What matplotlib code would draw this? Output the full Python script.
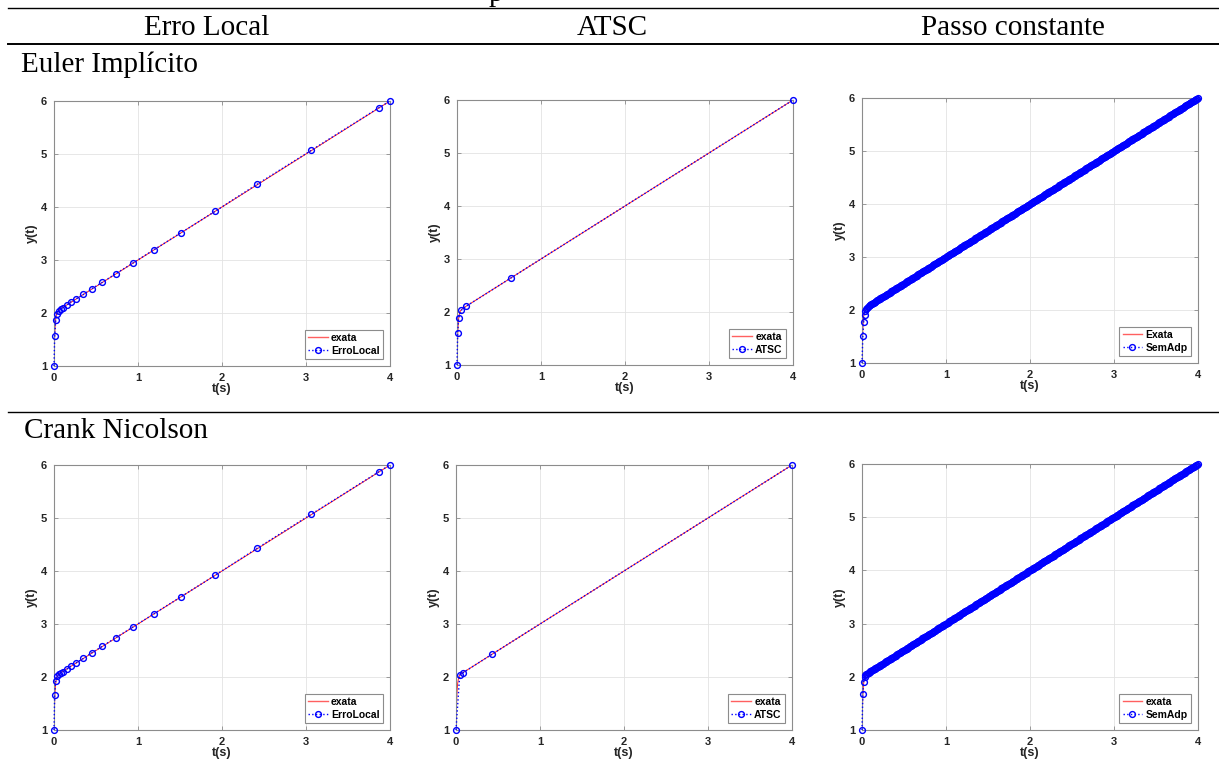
import matplotlib
matplotlib.use("Agg")
from matplotlib import pyplot as plt
from matplotlib.lines import Line2D

W, H = 1219, 770

# solucao exata
t_exata = [0, 0.002, 0.005, 0.01, 0.015, 0.02, 0.03, 0.04, 0.05, 0.07, 0.1, 0.15, 0.2, 0.5, 1, 2, 3, 4]
y_exata = [1.0, 1.18, 1.40, 1.64, 1.79, 1.88, 1.98, 2.02, 2.04, 2.07, 2.10, 2.15, 2.20, 2.50, 3.00, 4.00, 5.00, 6.00]

# Erro Local
t_erro_ei = [0, 0.008, 0.02, 0.036, 0.06, 0.083, 0.107, 0.155, 0.2, 0.266, 0.35, 0.448, 0.575, 0.734,
             0.937, 1.187, 1.508, 1.915, 2.415, 3.063, 3.869, 4.0]
y_erro_ei = [1.0, 1.56, 1.86, 1.98, 2.04, 2.07, 2.10, 2.15, 2.21, 2.27, 2.35, 2.455, 2.58, 2.74,
             2.94, 3.19, 3.51, 3.916, 4.426, 5.07, 5.874, 6.0]
t_erro_cn = [0, 0.008, 0.02, 0.036, 0.06, 0.083, 0.107, 0.155, 0.2, 0.266, 0.35, 0.448, 0.575, 0.734,
             0.937, 1.187, 1.508, 1.915, 2.415, 3.063, 3.869, 4.0]
y_erro_cn = [1.0, 1.66, 1.93, 2.02, 2.05, 2.08, 2.10, 2.15, 2.21, 2.27, 2.35, 2.455, 2.58, 2.74,
             2.94, 3.19, 3.51, 3.916, 4.426, 5.07, 5.874, 6.0]

# ATSC
t_atsc_ei = [0, 0.008, 0.02, 0.048, 0.111, 0.639, 4.0]
y_atsc_ei = [1.0, 1.60, 1.89, 2.03, 2.11, 2.64, 6.0]
t_atsc_cn = [0, 0.044, 0.079, 0.429, 4.0]
y_atsc_cn = [1.0, 2.04, 2.075, 2.43, 6.0]

# Passo constante (h = 0.01)
passo_t = [
    0.00, 0.01, 0.02, 0.03, 0.04, 0.05, 0.06, 0.07, 0.08, 0.09,
    0.10, 0.11, 0.12, 0.13, 0.14, 0.15, 0.16, 0.17, 0.18, 0.19,
    0.20, 0.21, 0.22, 0.23, 0.24, 0.25, 0.26, 0.27, 0.28, 0.29,
    0.30, 0.31, 0.32, 0.33, 0.34, 0.35, 0.36, 0.37, 0.38, 0.39,
    0.40, 0.41, 0.42, 0.43, 0.44, 0.45, 0.46, 0.47, 0.48, 0.49,
    0.50, 0.51, 0.52, 0.53, 0.54, 0.55, 0.56, 0.57, 0.58, 0.59,
    0.60, 0.61, 0.62, 0.63, 0.64, 0.65, 0.66, 0.67, 0.68, 0.69,
    0.70, 0.71, 0.72, 0.73, 0.74, 0.75, 0.76, 0.77, 0.78, 0.79,
    0.80, 0.81, 0.82, 0.83, 0.84, 0.85, 0.86, 0.87, 0.88, 0.89,
    0.90, 0.91, 0.92, 0.93, 0.94, 0.95, 0.96, 0.97, 0.98, 0.99,
    1.00, 1.01, 1.02, 1.03, 1.04, 1.05, 1.06, 1.07, 1.08, 1.09,
    1.10, 1.11, 1.12, 1.13, 1.14, 1.15, 1.16, 1.17, 1.18, 1.19,
    1.20, 1.21, 1.22, 1.23, 1.24, 1.25, 1.26, 1.27, 1.28, 1.29,
    1.30, 1.31, 1.32, 1.33, 1.34, 1.35, 1.36, 1.37, 1.38, 1.39,
    1.40, 1.41, 1.42, 1.43, 1.44, 1.45, 1.46, 1.47, 1.48, 1.49,
    1.50, 1.51, 1.52, 1.53, 1.54, 1.55, 1.56, 1.57, 1.58, 1.59,
    1.60, 1.61, 1.62, 1.63, 1.64, 1.65, 1.66, 1.67, 1.68, 1.69,
    1.70, 1.71, 1.72, 1.73, 1.74, 1.75, 1.76, 1.77, 1.78, 1.79,
    1.80, 1.81, 1.82, 1.83, 1.84, 1.85, 1.86, 1.87, 1.88, 1.89,
    1.90, 1.91, 1.92, 1.93, 1.94, 1.95, 1.96, 1.97, 1.98, 1.99,
    2.00, 2.01, 2.02, 2.03, 2.04, 2.05, 2.06, 2.07, 2.08, 2.09,
    2.10, 2.11, 2.12, 2.13, 2.14, 2.15, 2.16, 2.17, 2.18, 2.19,
    2.20, 2.21, 2.22, 2.23, 2.24, 2.25, 2.26, 2.27, 2.28, 2.29,
    2.30, 2.31, 2.32, 2.33, 2.34, 2.35, 2.36, 2.37, 2.38, 2.39,
    2.40, 2.41, 2.42, 2.43, 2.44, 2.45, 2.46, 2.47, 2.48, 2.49,
    2.50, 2.51, 2.52, 2.53, 2.54, 2.55, 2.56, 2.57, 2.58, 2.59,
    2.60, 2.61, 2.62, 2.63, 2.64, 2.65, 2.66, 2.67, 2.68, 2.69,
    2.70, 2.71, 2.72, 2.73, 2.74, 2.75, 2.76, 2.77, 2.78, 2.79,
    2.80, 2.81, 2.82, 2.83, 2.84, 2.85, 2.86, 2.87, 2.88, 2.89,
    2.90, 2.91, 2.92, 2.93, 2.94, 2.95, 2.96, 2.97, 2.98, 2.99,
    3.00, 3.01, 3.02, 3.03, 3.04, 3.05, 3.06, 3.07, 3.08, 3.09,
    3.10, 3.11, 3.12, 3.13, 3.14, 3.15, 3.16, 3.17, 3.18, 3.19,
    3.20, 3.21, 3.22, 3.23, 3.24, 3.25, 3.26, 3.27, 3.28, 3.29,
    3.30, 3.31, 3.32, 3.33, 3.34, 3.35, 3.36, 3.37, 3.38, 3.39,
    3.40, 3.41, 3.42, 3.43, 3.44, 3.45, 3.46, 3.47, 3.48, 3.49,
    3.50, 3.51, 3.52, 3.53, 3.54, 3.55, 3.56, 3.57, 3.58, 3.59,
    3.60, 3.61, 3.62, 3.63, 3.64, 3.65, 3.66, 3.67, 3.68, 3.69,
    3.70, 3.71, 3.72, 3.73, 3.74, 3.75, 3.76, 3.77, 3.78, 3.79,
    3.80, 3.81, 3.82, 3.83, 3.84, 3.85, 3.86, 3.87, 3.88, 3.89,
    3.90, 3.91, 3.92, 3.93, 3.94, 3.95, 3.96, 3.97, 3.98, 3.99,
    4.00]
passo_y_ei_inicio = [1.0, 1.51, 1.77, 1.905, 1.978, 2.019, 2.044, 2.062, 2.076, 2.088]
passo_y_cn_inicio = [1.0, 1.677, 1.909, 1.993, 2.028, 2.046, 2.059, 2.07, 2.08, 2.09]
passo_y_resto = [
    2.10, 2.11, 2.12, 2.13, 2.14, 2.15, 2.16, 2.17, 2.18, 2.19,
    2.20, 2.21, 2.22, 2.23, 2.24, 2.25, 2.26, 2.27, 2.28, 2.29,
    2.30, 2.31, 2.32, 2.33, 2.34, 2.35, 2.36, 2.37, 2.38, 2.39,
    2.40, 2.41, 2.42, 2.43, 2.44, 2.45, 2.46, 2.47, 2.48, 2.49,
    2.50, 2.51, 2.52, 2.53, 2.54, 2.55, 2.56, 2.57, 2.58, 2.59,
    2.60, 2.61, 2.62, 2.63, 2.64, 2.65, 2.66, 2.67, 2.68, 2.69,
    2.70, 2.71, 2.72, 2.73, 2.74, 2.75, 2.76, 2.77, 2.78, 2.79,
    2.80, 2.81, 2.82, 2.83, 2.84, 2.85, 2.86, 2.87, 2.88, 2.89,
    2.90, 2.91, 2.92, 2.93, 2.94, 2.95, 2.96, 2.97, 2.98, 2.99,
    3.00, 3.01, 3.02, 3.03, 3.04, 3.05, 3.06, 3.07, 3.08, 3.09,
    3.10, 3.11, 3.12, 3.13, 3.14, 3.15, 3.16, 3.17, 3.18, 3.19,
    3.20, 3.21, 3.22, 3.23, 3.24, 3.25, 3.26, 3.27, 3.28, 3.29,
    3.30, 3.31, 3.32, 3.33, 3.34, 3.35, 3.36, 3.37, 3.38, 3.39,
    3.40, 3.41, 3.42, 3.43, 3.44, 3.45, 3.46, 3.47, 3.48, 3.49,
    3.50, 3.51, 3.52, 3.53, 3.54, 3.55, 3.56, 3.57, 3.58, 3.59,
    3.60, 3.61, 3.62, 3.63, 3.64, 3.65, 3.66, 3.67, 3.68, 3.69,
    3.70, 3.71, 3.72, 3.73, 3.74, 3.75, 3.76, 3.77, 3.78, 3.79,
    3.80, 3.81, 3.82, 3.83, 3.84, 3.85, 3.86, 3.87, 3.88, 3.89,
    3.90, 3.91, 3.92, 3.93, 3.94, 3.95, 3.96, 3.97, 3.98, 3.99,
    4.00, 4.01, 4.02, 4.03, 4.04, 4.05, 4.06, 4.07, 4.08, 4.09,
    4.10, 4.11, 4.12, 4.13, 4.14, 4.15, 4.16, 4.17, 4.18, 4.19,
    4.20, 4.21, 4.22, 4.23, 4.24, 4.25, 4.26, 4.27, 4.28, 4.29,
    4.30, 4.31, 4.32, 4.33, 4.34, 4.35, 4.36, 4.37, 4.38, 4.39,
    4.40, 4.41, 4.42, 4.43, 4.44, 4.45, 4.46, 4.47, 4.48, 4.49,
    4.50, 4.51, 4.52, 4.53, 4.54, 4.55, 4.56, 4.57, 4.58, 4.59,
    4.60, 4.61, 4.62, 4.63, 4.64, 4.65, 4.66, 4.67, 4.68, 4.69,
    4.70, 4.71, 4.72, 4.73, 4.74, 4.75, 4.76, 4.77, 4.78, 4.79,
    4.80, 4.81, 4.82, 4.83, 4.84, 4.85, 4.86, 4.87, 4.88, 4.89,
    4.90, 4.91, 4.92, 4.93, 4.94, 4.95, 4.96, 4.97, 4.98, 4.99,
    5.00, 5.01, 5.02, 5.03, 5.04, 5.05, 5.06, 5.07, 5.08, 5.09,
    5.10, 5.11, 5.12, 5.13, 5.14, 5.15, 5.16, 5.17, 5.18, 5.19,
    5.20, 5.21, 5.22, 5.23, 5.24, 5.25, 5.26, 5.27, 5.28, 5.29,
    5.30, 5.31, 5.32, 5.33, 5.34, 5.35, 5.36, 5.37, 5.38, 5.39,
    5.40, 5.41, 5.42, 5.43, 5.44, 5.45, 5.46, 5.47, 5.48, 5.49,
    5.50, 5.51, 5.52, 5.53, 5.54, 5.55, 5.56, 5.57, 5.58, 5.59,
    5.60, 5.61, 5.62, 5.63, 5.64, 5.65, 5.66, 5.67, 5.68, 5.69,
    5.70, 5.71, 5.72, 5.73, 5.74, 5.75, 5.76, 5.77, 5.78, 5.79,
    5.80, 5.81, 5.82, 5.83, 5.84, 5.85, 5.86, 5.87, 5.88, 5.89,
    5.90, 5.91, 5.92, 5.93, 5.94, 5.95, 5.96, 5.97, 5.98, 5.99,
    6.00]
passo_y_ei = passo_y_ei_inicio + passo_y_resto
passo_y_cn = passo_y_cn_inicio + passo_y_resto

colunas = ["Erro Local", "ATSC", "Passo constante"]
linhas = ["Euler Implícito", "Crank Nicolson"]

# (left, top, right, bottom) in pixels for each axes
caixas = [
    [(54, 101, 390, 366), (457, 100, 793, 365), (862, 98, 1198, 363)],
    [(54, 465, 390, 730), (456, 465, 792, 730), (862, 464, 1198, 730)],
]

paineis = [
    [(t_erro_ei, y_erro_ei, "exata", "ErroLocal"),
     (t_atsc_ei, y_atsc_ei, "exata", "ATSC"),
     (passo_t, passo_y_ei, "Exata", "SemAdp")],
    [(t_erro_cn, y_erro_cn, "exata", "ErroLocal"),
     (t_atsc_cn, y_atsc_cn, "exata", "ATSC"),
     (passo_t, passo_y_cn, "exata", "SemAdp")],
]

plt.rcParams['font.family'] = ['Liberation Sans', 'DejaVu Sans']
fig = plt.figure(figsize=(W / 100, H / 100), dpi=100)
serif = ['Liberation Serif', 'DejaVu Serif']


def fx(px):
    return px / W


def fy(py):
    return 1 - py / H


# table rules and texts
for y, lw in [(7.5, 1.0), (44, 1.4), (412, 1.0)]:
    fig.add_artist(Line2D([fx(8), 1], [fy(y), fy(y)], transform=fig.transFigure,
                          color='black', lw=lw))
# caption above the table is cut by the page edge; only its "p" shows
fig.text(fx(496), fy(1), "p", family=serif, fontsize=21, ha='center', va='baseline')
for x, txt in zip([207, 612, 1013], colunas):
    fig.text(fx(x), fy(35), txt, family=serif, fontsize=21, ha='center', va='baseline')
fig.text(fx(21), fy(72), linhas[0], family=serif, fontsize=21, ha='left', va='baseline')
fig.text(fx(24), fy(438), linhas[1], family=serif, fontsize=21, ha='left', va='baseline')

cinza = '#8c8c8c'
for i in range(2):
    for j in range(3):
        l, t, r, b = caixas[i][j]
        ax = fig.add_axes([fx(l), fy(b), (r - l) / W, (b - t) / H])
        tt, yy, lab_ex, lab = paineis[i][j]
        ax.plot(t_exata, y_exata, color='#ff2020', lw=0.7, label=lab_ex)
        ax.plot(tt, yy, color='blue', ls=':', lw=1.0, marker='o', mfc='none',
                ms=4.2, mew=1.0, label=lab, clip_on=False, zorder=3)
        ax.set_xlim(0, 4)
        ax.set_ylim(1, 6)
        ax.set_xticks([0, 1, 2, 3, 4])
        ax.set_yticks([1, 2, 3, 4, 5, 6])
        ax.grid(True, color='#e3e3e3', lw=0.6)
        ax.set_axisbelow(True)
        for s in ax.spines.values():
            s.set_color(cinza)
            s.set_linewidth(0.8)
        ax.tick_params(direction='in', length=3, width=0.6, color=cinza,
                       top=True, right=True, labelsize=8, labelcolor='#262626', pad=5)
        for lbl in ax.get_xticklabels() + ax.get_yticklabels():
            lbl.set_fontweight('bold')
        ax.set_xlabel("t(s)", fontsize=9, fontweight='bold', color='#262626', labelpad=0)
        ax.set_ylabel("y(t)", fontsize=9, fontweight='bold', color='#262626', labelpad=2)
        leg = ax.legend(loc='lower right', fancybox=False, framealpha=1,
                        edgecolor=cinza, prop={'weight': 'bold', 'size': 7.5},
                        handlelength=1.9, handletextpad=0.3, borderpad=0.3,
                        labelspacing=0.25, borderaxespad=0.7)
        leg.get_frame().set_linewidth(0.8)
        leg.get_lines()[0].set_color('#ff6060')
        leg.get_lines()[0].set_linewidth(1.0)
        leg.set_zorder(5)

fig.savefig("out.png", dpi=100)
